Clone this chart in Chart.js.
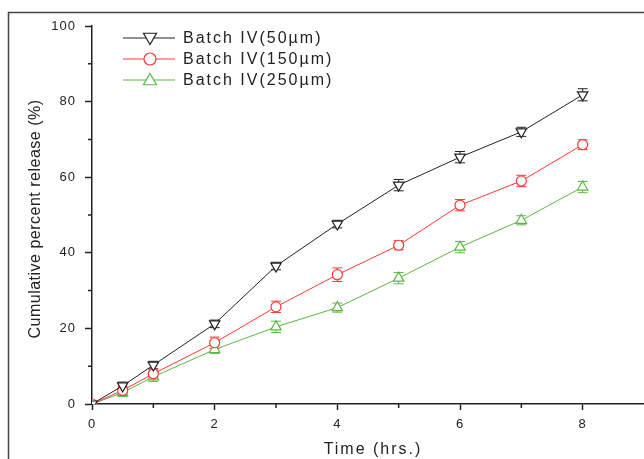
<!DOCTYPE html>
<html>
<head>
<meta charset="utf-8">
<script src="https://cdn.jsdelivr.net/npm/chart.js@4.4.0/dist/chart.umd.min.js"></script>
<style>
  html, body { margin: 0; padding: 0; background: #fff; }
  canvas { display: block; }
</style>
</head>
<body>
<canvas id="releaseChart" width="644" height="459"></canvas>
<script>
// Time points (hrs.)
const timePoints = [0, 0.5, 1, 2, 3, 4, 5, 6, 7, 8];

// Cumulative percent release
const batch50 = [0, 4.8, 10.3, 21.2, 36.5, 47.6, 57.9, 65.3, 72.0, 81.8];
const batch150 = [0, 3.6, 8.0, 16.2, 25.7, 34.2, 42.0, 52.6, 59.0, 68.6];
const batch250 = [0, 3.0, 7.2, 14.4, 20.4, 25.5, 33.3, 41.5, 48.6, 57.4];

// error bar half-heights
const err50 = [0, 1.0, 1.0, 1.0, 1.0, 1.0, 1.5, 1.5, 1.2, 1.6];
const err150 = [0, 1.0, 1.2, 1.5, 1.5, 1.8, 1.2, 1.5, 1.5, 1.3];
const err250 = [0, 1.0, 1.2, 1.0, 1.5, 1.2, 1.5, 1.5, 1.2, 1.5];

const seriesLabels = ['Batch IV(50µm)', 'Batch IV(150µm)', 'Batch IV(250µm)'];

const xTicks = [0, 2, 4, 6, 8];
const xMinorTicks = [1, 3, 5, 7];
const yTicks = [0, 20, 40, 60, 80, 100];
const yMinorTicks = [10, 30, 50, 70, 90];

const xTitle = 'Time (hrs.)';
const yTitle = 'Cumulative percent release (%)';

const colors = ['#222222', '#ff3838', '#5cb843'];
const errors = [err50, err150, err250];

function toPoints(values) {
    return timePoints.map((t, i) => ({ x: t, y: values[i] }));
}

// white page and the thin frame round the figure
const framePlugin = {
    id: 'frame',
    beforeDraw(chart) {
        const ctx = chart.ctx;
        ctx.save();
        ctx.fillStyle = '#fff';
        ctx.fillRect(0, 0, chart.width, chart.height);
        ctx.strokeStyle = '#444';
        ctx.lineWidth = 1.5;
        ctx.strokeRect(8.5, 12.5, 700, 500);
        ctx.restore();
        ctx.letterSpacing = '1px';
    }
};

// vertical error bars, drawn under the markers
const errorBarPlugin = {
    id: 'errorBars',
    beforeDatasetsDraw(chart) {
        const ctx = chart.ctx;
        const xs = chart.scales.x, ys = chart.scales.y;
        ctx.save();
        ctx.lineWidth = 1;
        chart.data.datasets.forEach((ds, i) => {
            ctx.strokeStyle = colors[i];
            ds.data.forEach((p, j) => {
                const e = errors[i][j];
                if (!e) return;
                const x = xs.getPixelForValue(p.x);
                const top = ys.getPixelForValue(p.y + e);
                const bot = ys.getPixelForValue(p.y - e);
                ctx.beginPath();
                ctx.moveTo(x, top); ctx.lineTo(x, bot);
                ctx.moveTo(x - 5, top); ctx.lineTo(x + 5, top);
                ctx.moveTo(x - 5, bot); ctx.lineTo(x + 5, bot);
                ctx.stroke();
            });
        });
        ctx.restore();
    }
};

function drawMarker(ctx, style, x, y, r) {
    ctx.beginPath();
    if (style === 'circle') {
        ctx.arc(x, y, r, 0, Math.PI * 2);
    } else {
        let rad = style === 'down' ? Math.PI : 0;
        for (let k = 0; k < 3; k++) {
            const px = x + Math.sin(rad) * r, py = y - Math.cos(rad) * r;
            if (k === 0) ctx.moveTo(px, py); else ctx.lineTo(px, py);
            rad += Math.PI * 2 / 3;
        }
        ctx.closePath();
    }
    ctx.fill();
    ctx.stroke();
}

// minor ticks, axis titles and the legend
const decorPlugin = {
    id: 'decor',
    afterDraw(chart) {
        const ctx = chart.ctx;
        const xs = chart.scales.x, ys = chart.scales.y;
        const area = chart.chartArea;
        ctx.save();
        ctx.strokeStyle = '#222';
        ctx.lineWidth = 1.5;
        ctx.beginPath();
        xMinorTicks.forEach(v => {
            const x = xs.getPixelForValue(v);
            ctx.moveTo(x, area.bottom); ctx.lineTo(x, area.bottom + 4);
        });
        yMinorTicks.forEach(v => {
            const y = ys.getPixelForValue(v);
            ctx.moveTo(area.left - 4, y); ctx.lineTo(area.left, y);
        });
        ctx.stroke();

        ctx.fillStyle = '#222';
        ctx.textAlign = 'center';
        ctx.textBaseline = 'middle';
        ctx.font = '16px "Liberation Sans", Arial, sans-serif';
        ctx.letterSpacing = '2px';
        ctx.fillText(xTitle, 373, 450);

        ctx.save();
        ctx.translate(36, 219);
        ctx.rotate(-Math.PI / 2);
        ctx.letterSpacing = '0.5px';
        ctx.fillText(yTitle, 0, 0);
        ctx.restore();

        // legend
        const styles = ['down', 'circle', 'up'];
        const radii = [7.5, 6, 7.5];
        ctx.textAlign = 'left';
        ctx.letterSpacing = '2px';
        seriesLabels.forEach((label, i) => {
            const y = 38 + i * 21;
            ctx.strokeStyle = colors[i];
            ctx.lineWidth = 1;
            ctx.beginPath();
            ctx.moveTo(123, y); ctx.lineTo(175, y);
            ctx.stroke();
            ctx.fillStyle = '#fff';
            ctx.lineWidth = 1.2;
            drawMarker(ctx, styles[i], 150, y + (styles[i] === 'down' ? -1 : styles[i] === 'up' ? 1 : 0), radii[i]);
            ctx.fillStyle = '#222';
            ctx.fillText(label, 183, y + 1);
        });
        ctx.restore();
    }
};

const tickFont = { family: '"Liberation Sans", Arial, sans-serif', size: 13 };

new Chart(document.getElementById('releaseChart').getContext('2d'), {
    type: 'line',
    data: {
        datasets: [
            {
                label: seriesLabels[0], data: toPoints(batch50),
                borderColor: colors[0], backgroundColor: '#fff', borderWidth: 1,
                pointStyle: 'triangle', rotation: 180, pointRadius: 6,
                pointBorderWidth: 1.2, pointBackgroundColor: '#fff', pointBorderColor: colors[0]
            },
            {
                label: seriesLabels[1], data: toPoints(batch150),
                borderColor: colors[1], backgroundColor: '#fff', borderWidth: 1,
                pointStyle: 'circle', pointRadius: 5,
                pointBorderWidth: 1.2, pointBackgroundColor: '#fff', pointBorderColor: colors[1]
            },
            {
                label: seriesLabels[2], data: toPoints(batch250),
                borderColor: colors[2], backgroundColor: '#fff', borderWidth: 1,
                pointStyle: 'triangle', pointRadius: 6,
                pointBorderWidth: 1.2, pointBackgroundColor: '#fff', pointBorderColor: colors[2]
            }
        ]
    },
    options: {
        responsive: false,
        animation: false,
        layout: { autoPadding: false, padding: { top: 26, left: 0, right: 0, bottom: 0 } },
        plugins: {
            legend: { display: false },
            tooltip: { enabled: false }
        },
        scales: {
            x: {
                type: 'linear', min: 0, max: 9,
                afterBuildTicks: s => { s.ticks = xTicks.map(v => ({ value: v })); },
                afterFit: s => { s.height = 55; s.paddingLeft = 0; s.paddingRight = 0; },
                grid: { drawOnChartArea: false, tickLength: 6, tickColor: '#222', tickWidth: 1.5 },
                border: { color: '#222', width: 1.5 },
                ticks: { font: tickFont, color: '#222', padding: 7, maxRotation: 0 }
            },
            y: {
                min: 0, max: 100,
                afterBuildTicks: s => { s.ticks = yTicks.map(v => ({ value: v })); },
                afterFit: s => { s.width = 92; s.paddingTop = 0; s.paddingBottom = 0; },
                grid: { drawOnChartArea: false, tickLength: 7, tickColor: '#222', tickWidth: 1.5 },
                border: { color: '#222', width: 1.5 },
                ticks: { font: tickFont, color: '#222', padding: 9 }
            }
        }
    },
    plugins: [framePlugin, errorBarPlugin, decorPlugin]
});
</script>
</body>
</html>
